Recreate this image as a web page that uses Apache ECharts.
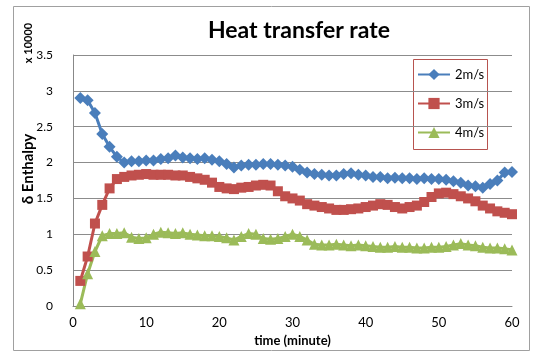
<!DOCTYPE html>
<html>
<head>
<meta charset="utf-8">
<script src="https://cdn.jsdelivr.net/npm/echarts@6/dist/echarts.min.js"></script>
<style>
html,body{margin:0;padding:0;background:#fff;}
#chart{width:535px;height:354px;}
</style>
</head>
<body>
<div id="chart"></div>
<script>
// Time in minutes for every sample
const minutes = Array.from({length: 60}, (_, i) => i + 1);

// Heat transfer rate (x 10000) per air speed
const speed2 = [2.90,2.87,2.69,2.40,2.22,2.08,2.00,2.02,2.02,2.03,
                2.03,2.05,2.06,2.10,2.07,2.06,2.05,2.06,2.04,2.02,
                1.98,1.93,1.96,1.97,1.97,1.98,1.98,1.97,1.96,1.94,
                1.90,1.86,1.84,1.83,1.82,1.82,1.84,1.85,1.83,1.82,
                1.80,1.80,1.78,1.79,1.78,1.78,1.77,1.78,1.77,1.77,
                1.76,1.74,1.72,1.68,1.67,1.65,1.70,1.75,1.86,1.87];
const speed3 = [0.35,0.69,1.15,1.41,1.64,1.77,1.80,1.82,1.83,1.84,
                1.83,1.83,1.83,1.82,1.82,1.80,1.78,1.76,1.72,1.66,
                1.64,1.63,1.65,1.66,1.68,1.69,1.68,1.60,1.53,1.50,
                1.47,1.42,1.40,1.38,1.36,1.34,1.34,1.35,1.36,1.38,
                1.40,1.42,1.41,1.38,1.36,1.38,1.40,1.45,1.52,1.57,
                1.58,1.56,1.53,1.50,1.46,1.40,1.36,1.32,1.30,1.28];
const speed4 = [0.03,0.45,0.76,0.98,1.01,1.01,1.02,0.96,0.94,0.95,
                1.00,1.03,1.02,1.01,1.02,1.00,0.99,0.98,0.98,0.97,
                0.95,0.92,0.97,1.01,1.00,0.94,0.93,0.94,0.97,1.00,
                0.97,0.92,0.86,0.85,0.85,0.86,0.85,0.84,0.85,0.84,
                0.83,0.82,0.82,0.83,0.82,0.82,0.81,0.81,0.82,0.82,
                0.83,0.85,0.87,0.85,0.84,0.82,0.81,0.81,0.80,0.78];

const seriesNames = ['2m/s', '3m/s', '4m/s'];
const xTicks = [0, 10, 20, 30, 40, 50, 60];
const yTicks = [0, 0.5, 1, 1.5, 2, 2.5, 3, 3.5];

const font = 'Lato, "Open Sans", sans-serif';
const pairs = arr => minutes.map((m, i) => [m, arr[i]]);

const chart = echarts.init(document.getElementById('chart'), null, {renderer: 'canvas'});
chart.setOption({
  animation: false,
  backgroundColor: '#ffffff',
  title: {
    text: 'Heat transfer rate',
    left: 294, top: 14, textAlign: 'center',
    textStyle: {fontFamily: font, fontSize: 23, fontWeight: 'bold', color: '#000'}
  },
  grid: {left: 73, right: 23, top: 55, bottom: 48},
  legend: {
    orient: 'vertical',
    left: 413, top: 59,
    padding: [9, 3, 9, 4],
    itemGap: 16,
    itemWidth: 32, itemHeight: 14,
    textStyle: {fontFamily: font, fontSize: 13, color: '#000'},
    data: seriesNames
  },
  xAxis: {
    type: 'value', min: xTicks[0], max: xTicks[xTicks.length - 1], interval: 10,
    name: 'time (minute)', nameLocation: 'middle', nameGap: 25,
    nameTextStyle: {fontFamily: font, fontSize: 13, fontWeight: 'bold', color: '#000'},
    axisLine: {lineStyle: {color: '#888', width: 1}},
    axisTick: {show: false},
    splitLine: {show: false},
    axisLabel: {fontFamily: font, fontSize: 13, color: '#000', margin: 10}
  },
  yAxis: {
    type: 'value', min: yTicks[0], max: yTicks[yTicks.length - 1], interval: 0.5,
    axisLine: {show: true, lineStyle: {color: '#888', width: 1}},
    axisTick: {show: false},
    splitLine: {lineStyle: {color: '#8c8c8c', width: 1}},
    axisLabel: {fontFamily: font, fontSize: 12, color: '#000', margin: 20}
  },
  graphic: [
    {
      type: 'rect', left: 11, top: 4, silent: true,
      shape: {width: 516, height: 344},
      style: {fill: 'none', stroke: '#a0a0a0', lineWidth: 1}
    },
    {
      // legend frame
      type: 'rect', left: 413, top: 59, silent: true, z: 0,
      shape: {width: 74, height: 90},
      style: {fill: '#fff', stroke: '#b7534f', lineWidth: 1}
    },
    {
      type: 'text', x: 28, y: 43, rotation: Math.PI / 2, silent: true,
      style: {text: 'x 10000', font: 'bold 11px ' + font, fill: '#000',
              align: 'center', verticalAlign: 'middle'}
    },
    {
      type: 'text', x: 28, y: 169, rotation: Math.PI / 2, silent: true,
      style: {text: 'δ Enthalpy', font: 'bold 15px ' + font, fill: '#000',
              align: 'center', verticalAlign: 'middle'}
    }
  ],
  series: [
    {
      name: seriesNames[0], type: 'line', data: pairs(speed2),
      symbol: 'diamond', symbolSize: 12,
      itemStyle: {color: '#4a7ebb'}, lineStyle: {width: 3, color: '#4a7ebb'}
    },
    {
      name: seriesNames[1], type: 'line', data: pairs(speed3),
      symbol: 'rect', symbolSize: 10,
      itemStyle: {color: '#c0504d'}, lineStyle: {width: 3, color: '#c0504d'}
    },
    {
      name: seriesNames[2], type: 'line', data: pairs(speed4),
      symbol: 'triangle', symbolSize: 11,
      itemStyle: {color: '#9bbb59'}, lineStyle: {width: 3, color: '#9bbb59'}
    }
  ]
});
</script>
</body>
</html>
